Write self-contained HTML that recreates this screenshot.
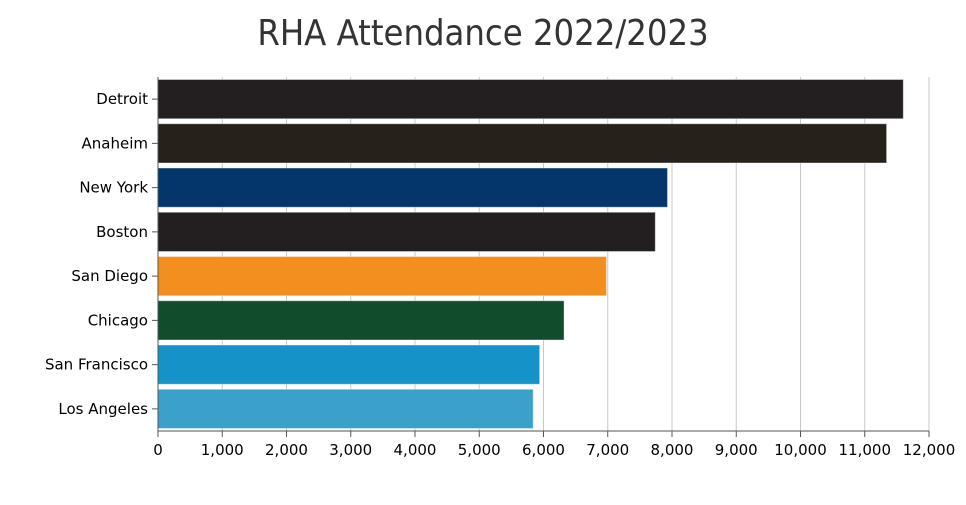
<!DOCTYPE html>
<html><head><meta charset="utf-8"><style>
body{margin:0;background:#fff;font-family:"Liberation Sans","DejaVu Sans",sans-serif;}
svg text{font-family:"DejaVu Sans","Liberation Sans",sans-serif;}
</style></head><body>
<svg id="chart" width="966" height="500">
<text x="483" y="45" text-anchor="middle" font-size="36" fill="#333" style="font-family:'DejaVu Sans Condensed','DejaVu Sans',sans-serif">RHA Attendance 2022/2023</text>
<g id="grid"></g><g id="bars"></g><g id="axes"></g>
</svg>
<script>
const categories=["Detroit","Anaheim","New York","Boston","San Diego","Chicago","San Francisco","Los Angeles"];
const values=[11600,11340,7930,7740,6980,6320,5940,5840];
const colors=["#231f20","#27211b","#04366b","#231f20","#f28f1e","#114d2d","#1592c8","#3ba0ca"];
const xTicks=[0,1000,2000,3000,4000,5000,6000,7000,8000,9000,10000,11000,12000];
const X0=158,X1=929,XMAX=12000,YT=77,YB=431;
const x=v=>X0+(v/XMAX)*(X1-X0);
const band=(YB-YT)/categories.length;
const y=i=>YT+i*band;
const NS="http://www.w3.org/2000/svg";
function mk(t,a,p){const e=document.createElementNS(NS,t);for(const k in a)e.setAttribute(k,a[k]);p.appendChild(e);return e;}
const grid=document.getElementById('grid'),bars=document.getElementById('bars'),axes=document.getElementById('axes');
xTicks.forEach(t=>{
 if(t>0){const g=mk('line',{x1:x(t),x2:x(t),y1:YT,y2:YB,stroke:'#c8c8c8','stroke-width':1},grid);
 
 }
 const tk=mk('line',{x1:x(t),x2:x(t),y1:YB,y2:YB+6,stroke:'#555'},axes);
 
 
 const lb=mk('text',{x:x(t),y:YB+24,'text-anchor':'middle','font-size':15,fill:'#000'},axes);
 lb.textContent=t.toLocaleString('en-US');
 
 
});
categories.forEach((c,i)=>{
 const r=mk('rect',{x:X0,y:y(i)+2.5,width:x(values[i])-X0,height:band-5,fill:colors[i],stroke:'#ffffff','stroke-opacity':0.4,'stroke-width':1},bars);
 
 
 const tk=mk('line',{x1:X0-6,x2:X0,y1:y(i)+band/2,y2:y(i)+band/2,stroke:'#555'},axes);
 
 
 const lb=mk('text',{x:X0-10,y:y(i)+band/2+5,'text-anchor':'end','font-size':15,fill:'#000'},axes);
 lb.textContent=c;
 
 
});
const ax=mk('line',{x1:X0,x2:X1,y1:YB,y2:YB,stroke:'#555'},axes);


const ay=mk('line',{x1:X0,x2:X0,y1:YT,y2:YB,stroke:'#555'},axes);


</script>
</body></html>
